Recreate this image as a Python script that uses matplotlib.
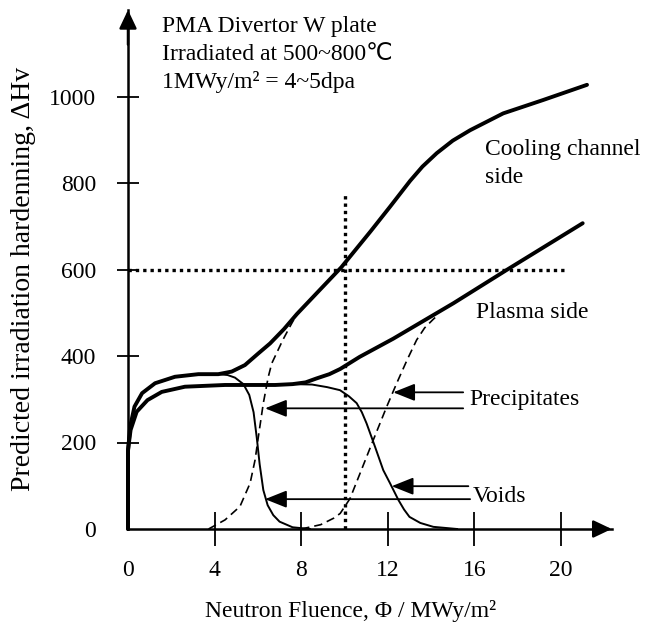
import matplotlib
matplotlib.use("Agg")
import matplotlib.pyplot as plt

# ---------------- data ----------------
cool_x = [0, 0.0, 0.1, 0.3, 0.65, 1.25, 2.17, 3.25, 4.17, 4.79, 5.4, 6.02, 6.56, 7.2,
          7.8, 8.9, 9.85, 11.2, 12.1, 13.03, 13.6, 14.26, 15.0, 15.8, 17.33, 19.18, 21.2]
cool_y = [0, 180, 237, 283, 314, 337, 352, 358, 358, 364, 379, 406, 429, 462,
          497, 555, 605, 688, 745, 805, 838, 869, 898, 922, 961, 992, 1027]

plasma_x = [0, 0.0, 0.12, 0.4, 0.9, 1.56, 2.63, 4.48, 6.8, 7.6, 8.2, 8.7, 9.3, 9.8,
            10.7, 12.25, 15.03, 17.49, 21.0]
plasma_y = [0, 183, 229, 271, 298, 317, 329, 333, 333, 335, 339, 348, 358, 370,
            398, 440, 522, 599, 707]

void1_x = [0, 0.0, 0.1, 0.3, 0.65, 1.25, 2.17, 3.25, 4.17, 4.6, 4.94, 5.33, 5.6, 5.8,
           5.95, 6.08, 6.25, 6.45, 6.71, 7.0, 7.6, 8.4]
void1_y = [0, 180, 237, 283, 314, 337, 352, 358, 358, 356, 350, 335, 310, 270,
           210, 150, 90, 55, 32, 17, 4, 0]

void2_x = [0, 0.0, 0.12, 0.4, 0.9, 1.56, 2.63, 4.48, 6.8, 7.6, 8.5, 9.2, 9.79, 10.2,
           10.56, 10.8, 11.02, 11.41, 11.79, 12.1, 12.49, 12.75, 13.0, 13.5, 14.1, 15.2]
void2_y = [0, 183, 229, 271, 298, 317, 329, 333, 333, 335, 334, 328, 321, 307,
           291, 270, 244, 190, 136, 106, 67, 45, 28, 14, 5, 0]

prec1_x = [3.72, 4.48, 5.17, 5.64, 5.87, 6.02, 6.25, 6.48, 6.64, 7.15, 7.48, 7.8]
prec1_y = [0, 21, 52, 106, 160, 213, 291, 352, 383, 437, 468, 497]

prec2_x = [8.0, 8.9, 9.5, 9.8, 10.25, 10.72, 11.33, 11.95, 12.41, 12.9, 13.33, 13.7,
           14.1, 14.3]
prec2_y = [0, 10, 25, 36, 70, 129, 206, 283, 337, 392, 437, 465, 485, 494]

ref_fluence = 10
ref_hardening = 600
hline_end = 20.3
vline_top = 772

xticks = [0, 4, 8, 12, 16, 20]
yticks = [0, 200, 400, 600, 800, 1000]

header_lines = ["PMA Divertor W plate", "Irradiated at 500~800\u2103", "1MWy/m\u00b2 = 4~5dpa"]
header_y = [1150, 1084, 1019]

# ---------------- figure ----------------
SERIF = ["Liberation Serif", "DejaVu Sans"]
plt.rcParams["font.family"] = SERIF
FS = 17

fig = plt.figure(figsize=(6.55, 6.26), dpi=100)
ax = fig.add_axes([128 / 655, (626 - 529) / 626, (611.7 - 128) / 655, (529 - 10) / 626])
ax.set_xlim(0, 22.34)
ax.set_ylim(0, 1200)

for s in ["top", "right"]:
    ax.spines[s].set_visible(False)
for s in ["left", "bottom"]:
    ax.spines[s].set_linewidth(1.8)

# axis arrowheads
head = dict(arrowstyle="-|>,head_length=0.8,head_width=0.38", color="black",
            lw=1.8, shrinkA=0, shrinkB=0, mutation_scale=14)
ax.annotate("", xy=(0, 1200), xytext=(0, 1120), arrowprops=head, annotation_clip=False)
ax.annotate("", xy=(22.34, 0), xytext=(21.5, 0), arrowprops=head, annotation_clip=False)

ax.set_xticks(xticks)
ax.set_yticks(yticks)
ax.tick_params(axis="x", direction="inout", length=25, width=1.3, labelsize=FS, pad=10)
ax.tick_params(axis="y", direction="inout", length=16, width=1.3, labelsize=FS, pad=15)
ax.xaxis.get_major_ticks()[0].tick1line.set_visible(False)
ax.yaxis.get_major_ticks()[0].tick1line.set_visible(False)

# curves
ax.plot(cool_x, cool_y, color="black", lw=2.8, solid_joinstyle="round",
        solid_capstyle="round", clip_on=False)
ax.plot(plasma_x, plasma_y, color="black", lw=2.8, solid_joinstyle="round",
        solid_capstyle="round", clip_on=False)
ax.plot(void1_x, void1_y, color="black", lw=1.4, solid_joinstyle="round")
ax.plot(void2_x, void2_y, color="black", lw=1.4, solid_joinstyle="round")
ax.plot(prec1_x, prec1_y, color="black", lw=1.2, linestyle=(0, (5, 3)))
ax.plot(prec2_x, prec2_y, color="black", lw=1.2, linestyle=(0, (5, 3)))

# reference dotted lines
ax.plot([0, hline_end], [ref_hardening, ref_hardening], color="black", lw=2.4,
        linestyle=(0, (1, 1.2)))
ax.plot([ref_fluence, ref_fluence], [0, vline_top], color="black", lw=2.4,
        linestyle=(0, (1, 1.2)))

# annotation arrows
arr = dict(arrowstyle="-|>,head_length=0.95,head_width=0.38", color="black", lw=1.3,
           shrinkA=0, shrinkB=0, mutation_scale=14)
ax.annotate("", xy=(12.25, 316), xytext=(15.48, 316), arrowprops=arr)
ax.annotate("", xy=(6.33, 279), xytext=(15.48, 279), arrowprops=arr)
ax.annotate("", xy=(12.18, 99), xytext=(15.72, 99), arrowprops=arr)
ax.annotate("", xy=(6.33, 69), xytext=(15.8, 69), arrowprops=arr)

# labels on chart
ax.text(15.76, 287, "Precipitates", fontsize=FS, va="baseline", ha="left")
ax.text(15.92, 63, "Voids", fontsize=FS, va="baseline", ha="left")
ax.text(16.07, 487, "Plasma side", fontsize=FS, va="baseline", ha="left")
ax.text(16.49, 865, "Cooling channel", fontsize=FS, va="baseline", ha="left", clip_on=False)
ax.text(16.49, 799, "side", fontsize=FS, va="baseline", ha="left")
for t, yy in zip(header_lines, header_y):
    ax.text(1.58, yy, t, fontsize=FS, va="baseline", ha="left", family=SERIF)

# axis labels
fig.text(24 / 655, 1 - 279 / 626, "Predicted irradiation hardenning, \u0394Hv",
         rotation=90, ha="center", va="center", fontsize=20)
fig.text(350.8 / 655, 1 - 611 / 626, "Neutron Fluence, \u03a6 / MWy/m\u00b2",
         ha="center", va="center", fontsize=FS)

fig.savefig("out.png", dpi=100, facecolor="white")
